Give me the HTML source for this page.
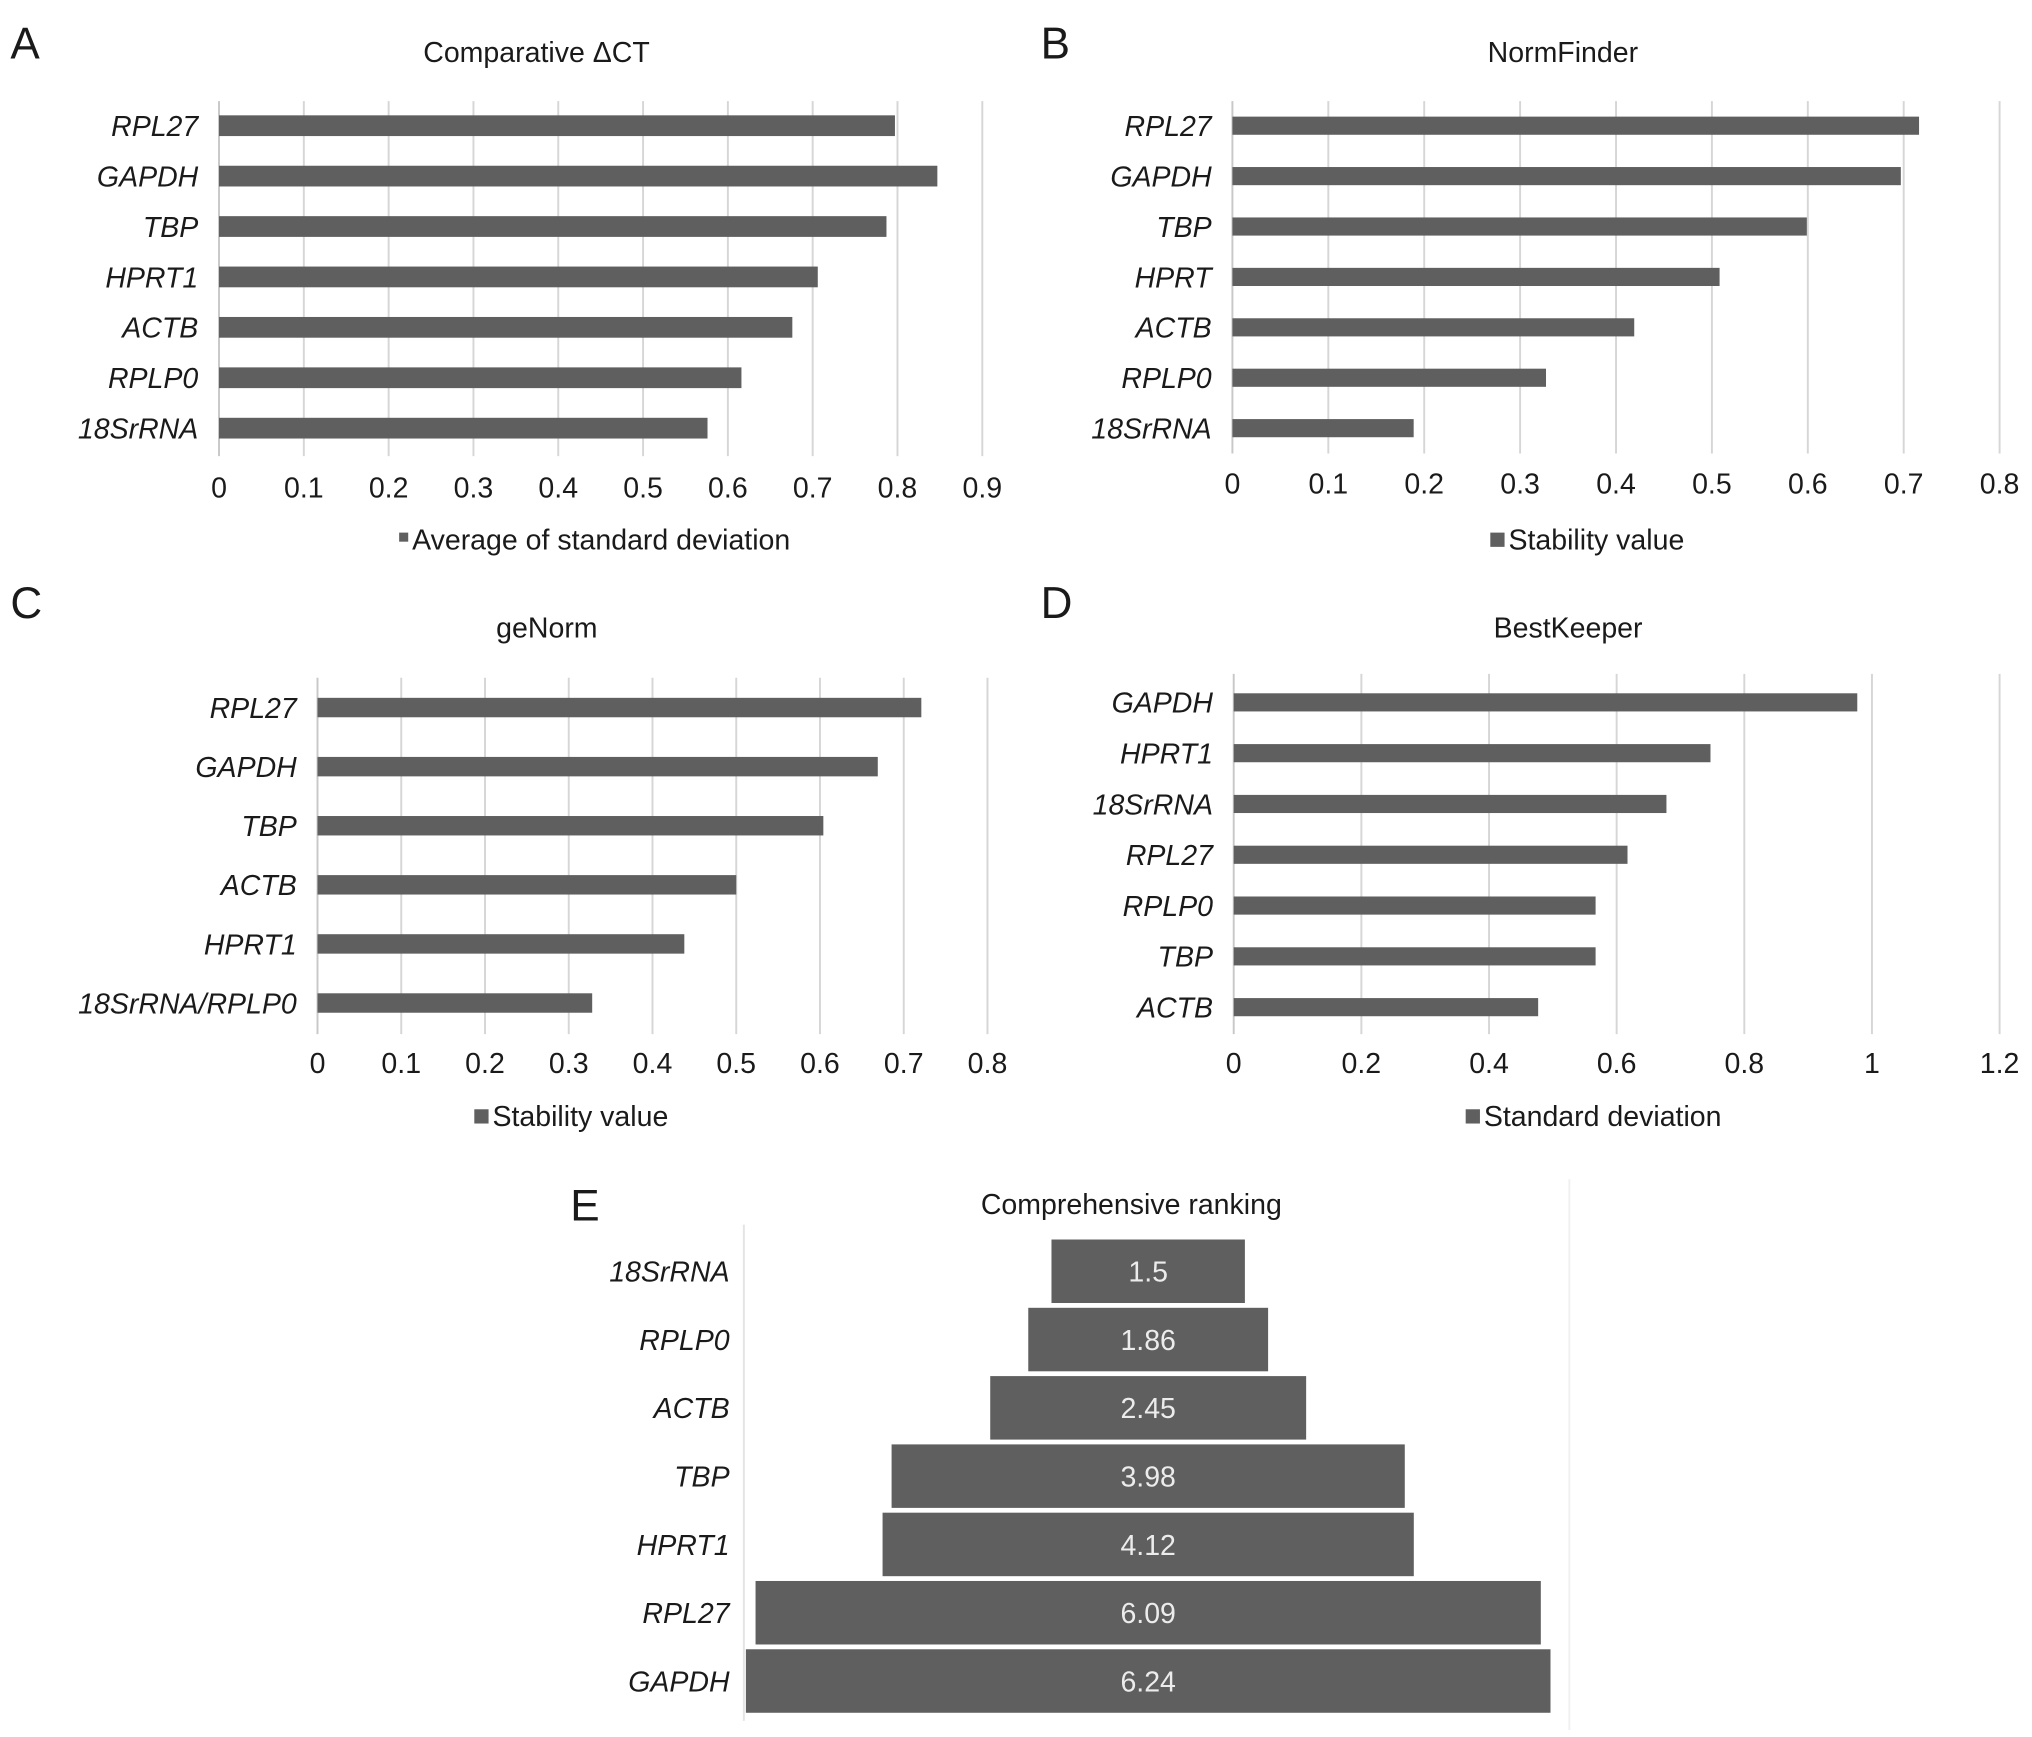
<!DOCTYPE html>
<html><head><meta charset="utf-8"><style>
html,body{margin:0;padding:0;background:#fff;}
svg{display:block;}
text{font-family:"Liberation Sans Narrow","Liberation Sans",sans-serif;fill:#1a1a1a;}
</style></head><body>
<svg id="fig" width="2032" height="1737" viewBox="0 0 1568 1340.4" preserveAspectRatio="none" xmlns="http://www.w3.org/2000/svg"></svg>
<script>
// Panel A: Comparative ΔCT
const aGenes = ["RPL27","GAPDH","TBP","HPRT1","ACTB","RPLP0","18SrRNA"];
const aValues = [0.797,0.847,0.787,0.706,0.676,0.616,0.576];
const aTicks = ["0","0.1","0.2","0.3","0.4","0.5","0.6","0.7","0.8","0.9"];
// Panel B: NormFinder
const bGenes = ["RPL27","GAPDH","TBP","HPRT","ACTB","RPLP0","18SrRNA"];
const bValues = [0.716,0.697,0.599,0.508,0.419,0.327,0.189];
const bTicks = ["0","0.1","0.2","0.3","0.4","0.5","0.6","0.7","0.8"];
// Panel C: geNorm
const cGenes = ["RPL27","GAPDH","TBP","ACTB","HPRT1","18SrRNA/RPLP0"];
const cValues = [0.721,0.669,0.604,0.5,0.438,0.328];
const cTicks = ["0","0.1","0.2","0.3","0.4","0.5","0.6","0.7","0.8"];
// Panel D: BestKeeper
const dGenes = ["GAPDH","HPRT1","18SrRNA","RPL27","RPLP0","TBP","ACTB"];
const dValues = [0.977,0.747,0.678,0.617,0.567,0.567,0.477];
const dTicks = ["0","0.2","0.4","0.6","0.8","1","1.2"];
// Panel E: Comprehensive ranking
const eGenes = ["18SrRNA","RPLP0","ACTB","TBP","HPRT1","RPL27","GAPDH"];
const eValues = [1.5,1.86,2.45,3.98,4.12,6.09,6.24];

const NS="http://www.w3.org/2000/svg";
const svg=document.getElementById('fig');
function el(tag,attrs,parent,txt){const e=document.createElementNS(NS,tag);for(const k in attrs)e.setAttribute(k,attrs[k]);if(txt!==undefined)e.textContent=txt;(parent||svg).appendChild(e);return e;}

function panel(cfg){
  const g=el('g',{});
  
  
  const max=cfg.ticks.length-1;
  const step=parseFloat(cfg.ticks[1]);
  const xMax=step*max;
  const x=v=>cfg.x0+(cfg.x1-cfg.x0)*v/xMax;
  const y=i=>cfg.yFirst+i*cfg.yStep;
  const L=el('text',{x:cfg.letterX,y:cfg.letterY,'font-size':34,'font-family':'Liberation Sans'},g,cfg.letter);
  
  
  const t=el('text',{x:cfg.titleX,y:cfg.titleY,'font-size':22,'text-anchor':'middle'},g,cfg.title);
  
  
  cfg.ticks.forEach((lab,i)=>{
    const xv=x(i*step);
    if(i>0){const gl=el('line',{x1:xv,x2:xv,y1:cfg.axTop,y2:cfg.axBot,stroke:'#d6d6d6','stroke-width':1.5},g);
      
      }
    const tl=el('text',{x:xv,y:cfg.tickY,'font-size':22,'text-anchor':'middle'},g,lab);
    
    
  });
  const ax=el('line',{x1:cfg.x0,x2:cfg.x0,y1:cfg.axTop,y2:cfg.axBot,stroke:'#c8c8c8','stroke-width':1.5},g);
  
  
  cfg.genes.forEach((gn,i)=>{
    const b=el('rect',{x:cfg.x0,y:y(i)-cfg.bh/2,width:x(cfg.values[i])-cfg.x0,height:cfg.bh,fill:'#5f5f5f'},g);
    
    
    const lb=el('text',{x:cfg.x0-16,y:y(i)+8,'font-size':22,'font-style':'italic','text-anchor':'end'},g,gn);
    
    
  });
  const lg=el('g',{},g);
  
  
  el('rect',{x:cfg.legX,y:cfg.legY-13,width:cfg.legSq,height:cfg.legSq,fill:'#5f5f5f'},lg);
  el('text',{x:cfg.legX+cfg.legSq+3,y:cfg.legY,'font-size':22},lg,cfg.legend);
}

panel({id:'panel-a-comparative-dct',letter:'A',letterX:8,letterY:45,title:'Comparative ΔCT',titleX:414,titleY:48,
  genes:aGenes,values:aValues,ticks:aTicks,x0:169,x1:758,yFirst:97,yStep:38.9,bh:16,axTop:78,axBot:352,tickY:384,
  legend:'Average of standard deviation',legX:308,legY:424,legSq:7});
panel({id:'panel-b-normfinder',letter:'B',letterX:803,letterY:45,title:'NormFinder',titleX:1206,titleY:48,
  genes:bGenes,values:bValues,ticks:bTicks,x0:951,x1:1543,yFirst:97,yStep:38.9,bh:14,axTop:78,axBot:350,tickY:381,
  legend:'Stability value',legX:1150,legY:424,legSq:11});
panel({id:'panel-c-genorm',letter:'C',letterX:8,letterY:477,title:'geNorm',titleX:422,titleY:492,
  genes:cGenes,values:cValues,ticks:cTicks,x0:245,x1:762,yFirst:546,yStep:45.6,bh:15,axTop:523,axBot:798,tickY:828,
  legend:'Stability value',legX:366,legY:869,legSq:11});
panel({id:'panel-d-bestkeeper',letter:'D',letterX:803,letterY:477,title:'BestKeeper',titleX:1210,titleY:492,
  genes:dGenes,values:dValues,ticks:dTicks,x0:952,x1:1543,yFirst:542,yStep:39.2,bh:14,axTop:520,axBot:798,tickY:828,
  legend:'Standard deviation',legX:1131,legY:869,legSq:11});

// Panel E
(function(){
  const g=el('g',{});
  
  
  const cx=886, unit=99.5, yFirst=981, yStep=52.7, bh=49;
  const L=el('text',{x:440,y:942,'font-size':34,'font-family':'Liberation Sans'},g,'E');
  
  
  const t=el('text',{x:873,y:937,'font-size':22,'text-anchor':'middle'},g,'Comprehensive ranking');
  
  
  const ax=el('line',{x1:574,x2:574,y1:945,y2:1328,stroke:'#e4e4e4','stroke-width':1.5},g);
  
  
  const rb=el('line',{x1:1211,x2:1211,y1:910,y2:1335,stroke:'#f0f0f0','stroke-width':1.5},g);
  
  
  eGenes.forEach((gn,i)=>{
    const w=eValues[i]*unit, yc=yFirst+i*yStep;
    const b=el('rect',{x:cx-w/2,y:yc-bh/2,width:w,height:bh,fill:'#5f5f5f'},g);
    
    
    const v=el('text',{x:cx,y:yc+8,'font-size':22,'text-anchor':'middle',style:'fill:#ececec'},g,String(eValues[i]));
    
    
    const lb=el('text',{x:563,y:yc+8,'font-size':22,'font-style':'italic','text-anchor':'end'},g,gn);
    
    
  });
})();
</script>
</body></html>
